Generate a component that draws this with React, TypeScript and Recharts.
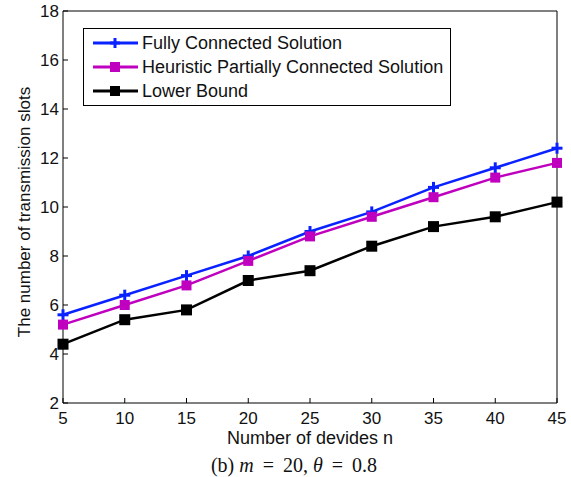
import React from "react"
import { LineChart, Line, XAxis, YAxis, Legend } from "recharts"

const devices = [5, 10, 15, 20, 25, 30, 35, 40, 45]
const fullyConnected = [5.6, 6.4, 7.2, 8.0, 9.0, 9.8, 10.8, 11.6, 12.4]
const heuristicPartial = [5.2, 6.0, 6.8, 7.8, 8.8, 9.6, 10.4, 11.2, 11.8]
const lowerBound = [4.4, 5.4, 5.8, 7.0, 7.4, 8.4, 9.2, 9.6, 10.2]
const xTicks = [5, 10, 15, 20, 25, 30, 35, 40, 45]
const yTicks = [2, 4, 6, 8, 10, 12, 14, 16, 18]

const data = devices.map((n, i) => ({
  n,
  full: fullyConnected[i],
  heur: heuristicPartial[i],
  lower: lowerBound[i],
}))

const BLUE = "#0a22ff"
const MAGENTA = "#bf00bf"
const BLACK = "#000000"
const FONT = "'Liberation Sans', Arial, sans-serif"
const SERIF = "'Liberation Serif', 'DejaVu Serif', serif"

const PlusDot = (props: any) => {
  const { cx, cy } = props
  if (cx == null || cy == null) return null
  return (
    <g>
      <line x1={cx - 5.5} y1={cy} x2={cx + 5.5} y2={cy} stroke={BLUE} strokeWidth={3} />
      <line x1={cx} y1={cy - 5.5} x2={cx} y2={cy + 5.5} stroke={BLUE} strokeWidth={3} />
    </g>
  )
}

const squareDot = (color: string, size: number) => (props: any) => {
  const { cx, cy } = props
  if (cx == null || cy == null) return null
  return <rect x={cx - size / 2} y={cy - size / 2} width={size} height={size} fill={color} />
}

const legendItems = [
  { label: "Fully Connected Solution", color: BLUE, marker: "plus" },
  { label: "Heuristic Partially Connected Solution", color: MAGENTA, marker: "square" },
  { label: "Lower Bound", color: BLACK, marker: "square" },
]

const renderLegend = () => (
  <div
    style={{
      border: "1px solid #000",
      background: "#fff",
      width: 368,
      height: 78,
      boxSizing: "border-box",
      paddingTop: 2,
      fontFamily: FONT,
      fontSize: 18,
    }}
  >
    {legendItems.map((item) => (
      <div key={item.label} style={{ display: "flex", alignItems: "center", height: 24 }}>
        <svg width={58} height={14} style={{ marginLeft: 8 }}>
          <line x1={1} y1={7} x2={46} y2={7} stroke={item.color} strokeWidth={3} />
          {item.marker === "plus" ? (
            <g>
              <line x1={18} y1={7} x2={28} y2={7} stroke={item.color} strokeWidth={3} />
              <line x1={23} y1={2} x2={23} y2={12} stroke={item.color} strokeWidth={3} />
            </g>
          ) : (
            <rect x={18} y={2} width={10} height={10} fill={item.color} />
          )}
        </svg>
        <span style={{ marginLeft: -8, color: "#111" }}>{item.label}</span>
      </div>
    ))}
  </div>
)

const eq = { margin: "0 9px" }

export default function App() {
  return (
    <div style={{ position: "absolute", left: 0, top: 0, width: 571, height: 477, background: "#fff" }}>
      <LineChart
        width={571}
        height={450}
        data={data}
        margin={{ top: 10, right: 13, left: 0, bottom: 0 }}
      >
        <XAxis
          dataKey="n"
          type="number"
          domain={[5, 45]}
          ticks={xTicks}
          tickSize={-5}
          tickMargin={14}
          height={47}
          stroke="#000"
          tick={{ fill: "#111", fontSize: 17, fontFamily: FONT }}
          label={{ value: "Number of devides n", position: "insideBottom", offset: 6, fill: "#111", fontSize: 18, fontFamily: FONT }}
        />
        <XAxis
          xAxisId="top"
          dataKey="n"
          type="number"
          orientation="top"
          domain={[5, 45]}
          ticks={xTicks}
          tickSize={-5}
          height={1}
          tick={false}
          stroke="#000"
        />
        <YAxis
          type="number"
          domain={[2, 18]}
          ticks={yTicks}
          tickSize={-5}
          tickMargin={9}
          width={63}
          stroke="#000"
          tick={{ fill: "#111", fontSize: 17, fontFamily: FONT }}
          label={{
            value: "The number of transmission slots",
            angle: -90,
            position: "center",
            dx: -8,
            dy: 5,
            fill: "#111",
            fontSize: 17,
            fontFamily: FONT,
          }}
        />
        <YAxis
          yAxisId="right"
          type="number"
          orientation="right"
          domain={[2, 18]}
          ticks={yTicks}
          tickSize={-5}
          width={1}
          tick={false}
          stroke="#000"
        />
        <Legend
          verticalAlign="middle"
          align="center"
          content={renderLegend}
          wrapperStyle={{ left: 83, top: 28, width: 368 }}
        />
        <Line
          dataKey="full"
          name="Fully Connected Solution"
          stroke={BLUE}
          strokeWidth={2.5}
          dot={<PlusDot />}
          isAnimationActive={false}
        />
        <Line
          dataKey="heur"
          name="Heuristic Partially Connected Solution"
          stroke={MAGENTA}
          strokeWidth={2.5}
          dot={squareDot(MAGENTA, 10)}
          isAnimationActive={false}
        />
        <Line
          dataKey="lower"
          name="Lower Bound"
          stroke={BLACK}
          strokeWidth={2.5}
          dot={squareDot(BLACK, 11)}
          isAnimationActive={false}
        />
      </LineChart>
      <div
        style={{
          position: "absolute",
          left: 0,
          width: 588,
          top: 454,
          textAlign: "center",
          fontFamily: SERIF,
          fontSize: 20,
          color: "#111",
          whiteSpace: "nowrap",
        }}
      >
        (b) <i>m</i><span style={eq}>=</span>20, <i>θ</i><span style={eq}>=</span>0.8
      </div>
    </div>
  )
}
